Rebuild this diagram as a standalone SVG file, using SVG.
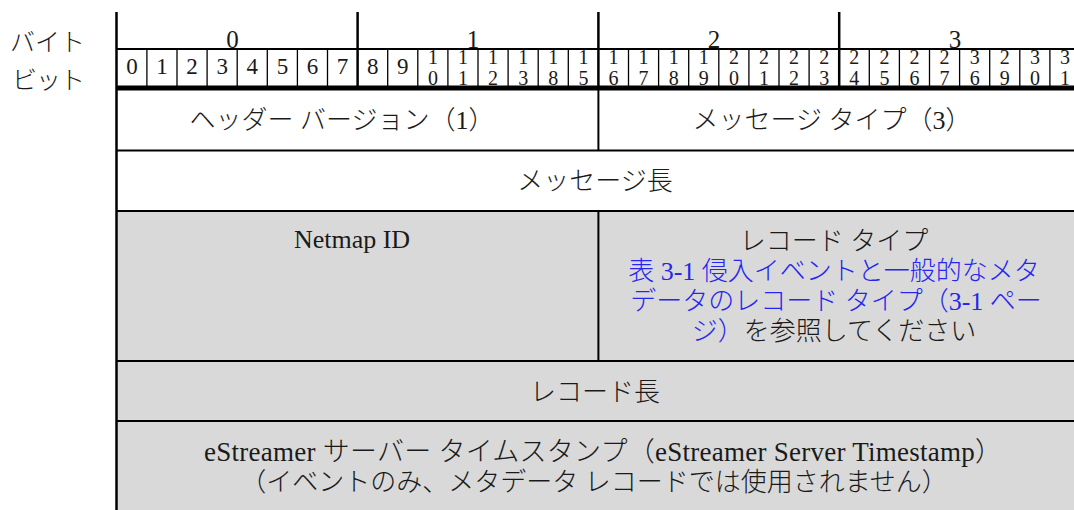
<svg xmlns="http://www.w3.org/2000/svg" width="1074" height="510" viewBox="0 0 1074 510">
<style>
.t{font-family:"Liberation Serif","Noto Sans CJK JP",serif;fill:#1a1a1a;font-weight:300}
.m{font-size:26px;text-anchor:middle}
.lbl{font-size:25px}
.byte{font-size:25px;text-anchor:middle}
.b1{font-size:23px;text-anchor:middle}
.b2{font-size:20px;text-anchor:middle}
.link{fill:#2626f0}
.thin{stroke:#000;stroke-width:1.3}
.mid{stroke:#000;stroke-width:2}
.thick{stroke:#000;stroke-width:2.5}
</style>
<rect x="0" y="0" width="1074" height="510" fill="#fff"/>
<rect x="117" y="211" width="957" height="299" fill="#d9d9d9"/>

<g id="axis-labels">
<text class="t lbl" x="10" y="51" textLength="75">バイト</text>
<text class="t lbl" x="12" y="89" textLength="73">ビット</text>
</g>

<g id="byte-header">
<text class="t byte" x="232.5" y="48">0</text>
<text class="t byte" x="473" y="48">1</text>
<text class="t byte" x="714" y="48">2</text>
<text class="t byte" x="955" y="48">3</text>
<line class="thick" x1="357.6" y1="12" x2="357.6" y2="88"/>
<line class="thick" x1="598.4" y1="12" x2="598.4" y2="88"/>
<line class="thick" x1="839.2" y1="12" x2="839.2" y2="88"/>
<line class="mid" x1="117" y1="49" x2="1074" y2="49"/>
</g>

<g id="bit-header">
<g class="thin">
<line x1="146.9" y1="49" x2="146.9" y2="86"/>
<line x1="177" y1="49" x2="177" y2="86"/>
<line x1="207.1" y1="49" x2="207.1" y2="86"/>
<line x1="237.2" y1="49" x2="237.2" y2="86"/>
<line x1="267.3" y1="49" x2="267.3" y2="86"/>
<line x1="297.4" y1="49" x2="297.4" y2="86"/>
<line x1="327.5" y1="49" x2="327.5" y2="86"/>
<line x1="387.7" y1="49" x2="387.7" y2="86"/>
<line x1="417.8" y1="49" x2="417.8" y2="86"/>
<line x1="447.9" y1="49" x2="447.9" y2="86"/>
<line x1="478" y1="49" x2="478" y2="86"/>
<line x1="508.1" y1="49" x2="508.1" y2="86"/>
<line x1="538.2" y1="49" x2="538.2" y2="86"/>
<line x1="568.3" y1="49" x2="568.3" y2="86"/>
<line x1="628.5" y1="49" x2="628.5" y2="86"/>
<line x1="658.6" y1="49" x2="658.6" y2="86"/>
<line x1="688.7" y1="49" x2="688.7" y2="86"/>
<line x1="718.8" y1="49" x2="718.8" y2="86"/>
<line x1="748.9" y1="49" x2="748.9" y2="86"/>
<line x1="779" y1="49" x2="779" y2="86"/>
<line x1="809.1" y1="49" x2="809.1" y2="86"/>
<line x1="869.3" y1="49" x2="869.3" y2="86"/>
<line x1="899.4" y1="49" x2="899.4" y2="86"/>
<line x1="929.5" y1="49" x2="929.5" y2="86"/>
<line x1="959.6" y1="49" x2="959.6" y2="86"/>
<line x1="989.7" y1="49" x2="989.7" y2="86"/>
<line x1="1019.8" y1="49" x2="1019.8" y2="86"/>
<line x1="1049.9" y1="49" x2="1049.9" y2="86"/>
</g>
<text class="t b1" x="131.9" y="74">0</text>
<text class="t b1" x="162" y="74">1</text>
<text class="t b1" x="192.1" y="74">2</text>
<text class="t b1" x="222.2" y="74">3</text>
<text class="t b1" x="252.3" y="74">4</text>
<text class="t b1" x="282.4" y="74">5</text>
<text class="t b1" x="312.5" y="74">6</text>
<text class="t b1" x="342.6" y="74">7</text>
<text class="t b1" x="372.7" y="74">8</text>
<text class="t b1" x="402.8" y="74">9</text>
<g class="t b2">
<text x="432.9" y="63.5">1</text><text x="432.9" y="85">0</text>
<text x="463" y="63.5">1</text><text x="463" y="85">1</text>
<text x="493.1" y="63.5">1</text><text x="493.1" y="85">2</text>
<text x="523.2" y="63.5">1</text><text x="523.2" y="85">3</text>
<text x="553.3" y="63.5">1</text><text x="553.3" y="85">8</text>
<text x="583.4" y="63.5">1</text><text x="583.4" y="85">5</text>
<text x="613.5" y="63.5">1</text><text x="613.5" y="85">6</text>
<text x="643.6" y="63.5">1</text><text x="643.6" y="85">7</text>
<text x="673.7" y="63.5">1</text><text x="673.7" y="85">8</text>
<text x="703.8" y="63.5">1</text><text x="703.8" y="85">9</text>
<text x="733.9" y="63.5">2</text><text x="733.9" y="85">0</text>
<text x="764" y="63.5">2</text><text x="764" y="85">1</text>
<text x="794.1" y="63.5">2</text><text x="794.1" y="85">2</text>
<text x="824.2" y="63.5">2</text><text x="824.2" y="85">3</text>
<text x="854.3" y="63.5">2</text><text x="854.3" y="85">4</text>
<text x="884.4" y="63.5">2</text><text x="884.4" y="85">5</text>
<text x="914.5" y="63.5">2</text><text x="914.5" y="85">6</text>
<text x="944.6" y="63.5">2</text><text x="944.6" y="85">7</text>
<text x="974.7" y="63.5">3</text><text x="974.7" y="85">6</text>
<text x="1004.8" y="63.5">2</text><text x="1004.8" y="85">9</text>
<text x="1034.9" y="63.5">3</text><text x="1034.9" y="85">0</text>
<text x="1065" y="63.5">3</text><text x="1065" y="85">1</text>
</g>
<rect x="117" y="85.5" width="957" height="5" fill="#000"/>
</g>

<g id="header-version">
<text class="t m" x="342" y="129">ヘッダー バージョン（1）</text>
</g>
<g id="message-type">
<text class="t m" x="832" y="129">メッセージ タイプ（3）</text>
</g>
<g id="message-length">
<text class="t m" x="595" y="190">メッセージ長</text>
</g>
<g id="netmap-id">
<text class="t m" x="352" y="248" font-size="27">Netmap ID</text>
</g>
<g id="record-type">
<text class="t m" x="834" y="250">レコード タイプ</text>
<text class="t m link" x="834" y="280">表 3-1 侵入イベントと一般的なメタ</text>
<text class="t m link" x="836" y="310">データのレコード タイプ（3-1 ペー</text>
<text class="t m" x="834" y="340"><tspan class="link">ジ）</tspan>を参照してください</text>
</g>
<g id="record-length">
<text class="t m" x="595" y="401">レコード長</text>
</g>
<g id="server-timestamp">
<text class="t" x="204" y="461" font-size="27" textLength="798">eStreamer サーバー タイムスタンプ（eStreamer Server Timestamp）</text>
<text class="t m" x="594" y="491">（イベントのみ、メタデータ レコードでは使用されません）</text>
</g>

<g id="table-lines">
<line class="thick" x1="116.5" y1="12" x2="116.5" y2="510"/>
<line class="mid" x1="117" y1="150.5" x2="1074" y2="150.5"/>
<line class="mid" x1="117" y1="211" x2="1074" y2="211"/>
<line class="mid" x1="117" y1="361" x2="1074" y2="361"/>
<line class="mid" x1="117" y1="421" x2="1074" y2="421"/>
<line class="mid" x1="598.4" y1="90" x2="598.4" y2="150.5"/>
<line class="mid" x1="598.4" y1="211" x2="598.4" y2="361"/>
</g>
</svg>
